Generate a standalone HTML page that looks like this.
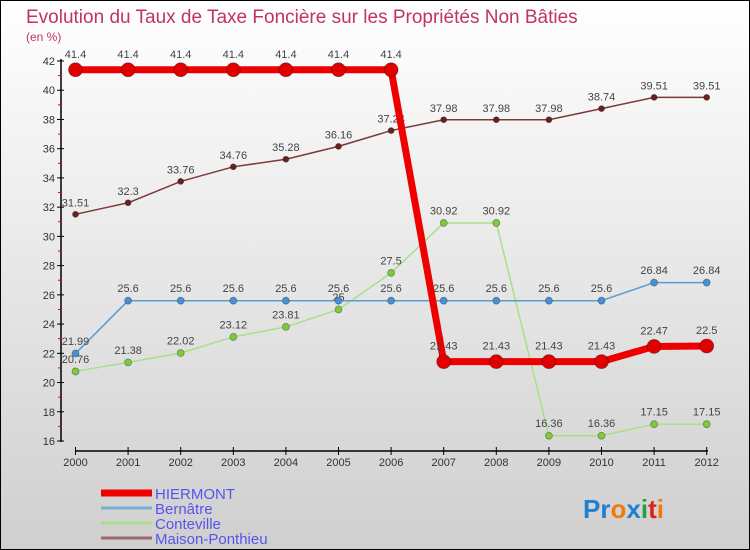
<!DOCTYPE html>
<html><head><meta charset="utf-8"><style>
body{margin:0}
#wrap{position:relative;width:748px;height:548px;border:1px solid #000;background:linear-gradient(#ffffff,#cfcfcf);font-family:"Liberation Sans",sans-serif;overflow:hidden}
</style></head><body>
<div id="wrap">
<svg id="chart" width="748" height="548"></svg>
</div>
<script>
const years=["2000","2001","2002","2003","2004","2005","2006","2007","2008","2009","2010","2011","2012"];
const hiermont=[41.4,41.4,41.4,41.4,41.4,41.4,41.4,21.43,21.43,21.43,21.43,22.47,22.5];
const bernatre=[21.99,25.6,25.6,25.6,25.6,25.6,25.6,25.6,25.6,25.6,25.6,26.84,26.84];
const conteville=[20.76,21.38,22.02,23.12,23.81,25,27.5,30.92,30.92,16.36,16.36,17.15,17.15];
const maison=[31.51,32.3,33.76,34.76,35.28,36.16,37.24,37.98,37.98,37.98,38.74,39.51,39.51];
const yTicks=[16,18,20,22,24,26,28,30,32,34,36,38,40,42];
const NS="http://www.w3.org/2000/svg";
const svg=document.getElementById('chart');
const X=i=>74.5+i*52.6;
const Y=v=>440-(v-16)*(380/26);
function mk(t,a,p){const e=document.createElementNS(NS,t);for(const k in a)e.setAttribute(k,a[k]);(p||svg).appendChild(e);return e;}
function txt(x,y,s,a){const e=mk('text',Object.assign({x:x,y:y},a));e.textContent=s;return e;}
let t=txt(25,22,"Evolution du Taux de Taxe Foncière sur les Propriétés Non Bâties",{fill:"#c0345f","font-size":"19"});

t=txt(25,40,"(en %)",{fill:"#c0345f","font-size":"12"});

// axes
let ax=mk('line',{x1:60,y1:58,x2:60,y2:441,stroke:"#000","stroke-width":1.5});

ax=mk('line',{x1:74,y1:450,x2:707,y2:450,stroke:"#000","stroke-width":1.5});

yTicks.forEach(v=>{mk('line',{x1:56,y1:Y(v),x2:63,y2:Y(v),stroke:"#000"});
 if(v<42)mk('line',{x1:57,y1:Y(v+1),x2:60,y2:Y(v+1),stroke:"#e00"});
 const l=txt(54,Y(v)+4,String(v),{fill:"#333","font-size":"11","text-anchor":"end"});
 });
years.forEach((y,i)=>{mk('line',{x1:X(i),y1:446,x2:X(i),y2:454,stroke:"#000"});
 const l=txt(X(i),465,y,{fill:"#333","font-size":"11","text-anchor":"middle"});
 });
function series(name,data,color,fill,w,r,labels){
 const g=mk('g',{});
 mk('polyline',{points:data.map((v,i)=>X(i)+','+Y(v)).join(' '),fill:"none",stroke:color,"stroke-width":w,"stroke-linejoin":"round"},g);
 data.forEach((v,i)=>{const c=mk('circle',{cx:X(i),cy:Y(v),r:r,fill:fill,stroke:"rgba(0,0,0,0.35)","stroke-width":0.8},g);
  
  if(labels){const l=txt(X(i),Y(v)-(r+5),String(v),{fill:"#444","font-size":"11","text-anchor":"middle"},g);
  }});
}
series('maison-ponthieu',maison,"#7a3a3a","#6b1f1f",1.5,3,true);
series('conteville',conteville,"#a8e08a","#7ccc3a",1.5,3.5,true);
series('bernatre',bernatre,"#5b9bd5","#4a90d9",1.5,3.5,true);
series('hiermont',hiermont,"#ee0000","#e00000",7,7,true);
// legend
const leg=[["HIERMONT","#ee0000",7],["Bernâtre","#7aaed6",3],["Conteville","#a8e08a",3],["Maison-Ponthieu","#9a6a6a",3]];
leg.forEach((e,i)=>{const g=mk('g',{});
 const y=492+i*15;mk('line',{x1:100,y1:y,x2:151,y2:y,stroke:e[1],"stroke-width":e[2]},g);
 txt(154,y+6,e[0],{fill:"#5555ee","font-size":"15"},g);});
const p=txt(582,517,"",{"font-size":"26","font-weight":"bold"});

[["Pr","#1f7fd0"],["o","#f07a10"],["x","#1f7fd0"],["i","#20a040"],["t","#e02020"],["i","#f07a10"]].forEach(s=>{const ts=mk('tspan',{fill:s[1]},p);ts.textContent=s[0];});
</script>
</body></html>
